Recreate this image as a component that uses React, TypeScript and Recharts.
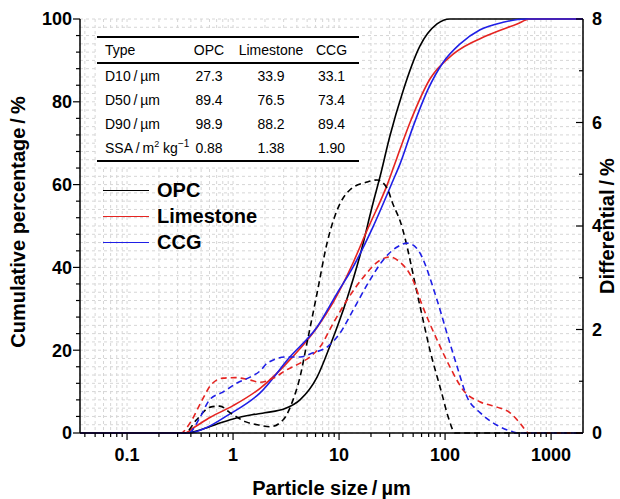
import React from 'react';
import { LineChart, Line, XAxis, YAxis, CartesianGrid } from 'recharts';

// particle size (µm) / cumulative passing (%)
const OPC_CUM_SIZE = [0.036, 0.35, 0.5, 0.71, 1, 1.51, 2, 3.1, 4.28, 6.2, 8.2, 11.9, 15.8, 20.9, 24.4, 30, 40, 58, 84, 111, 2000];
const OPC_CUM = [0, 0, 0.8, 2.2, 3.4, 4.4, 4.9, 5.9, 8.0, 13.5, 21, 32.5, 43, 55.5, 62, 71.5, 82.5, 93.5, 98.8, 100, 100];

const LIME_CUM_SIZE = [0.036, 0.35, 0.42, 0.61, 1, 1.8, 3.68, 6.2, 8.77, 13.5, 18.4, 28.5, 35.2, 46.7, 72, 119, 249, 478, 632, 2000];
const LIME_CUM = [0, 0, 1.2, 3.8, 6.6, 10.8, 18.5, 25.5, 31.5, 41, 49, 60, 66.5, 75, 85.5, 91.5, 96, 98.8, 100, 100];

const CCG_CUM_SIZE = [0.036, 0.39, 0.55, 0.88, 1.8, 3.45, 6.2, 9.6, 13.5, 20.9, 32.3, 37.6, 49.9, 69, 95.7, 138.6, 214, 352, 569, 2000];
const CCG_CUM = [0, 0, 1.2, 4.2, 9.7, 18.4, 25.6, 33.8, 40, 49.8, 61, 65, 74, 83, 89.5, 94, 97.4, 99.2, 100, 100];

// particle size (µm) / differential volume (%)
const OPC_DIFF_SIZE = [0.036, 0.35, 0.45, 0.61, 0.75, 0.94, 1.3, 1.8, 2.23, 2.96, 3.68, 4.28, 4.98, 6.2, 7.7, 9.6, 12.7, 18.4, 22.8, 28.4, 32, 37.6, 58, 72, 93, 107, 125, 2000];
const OPC_DIFF = [0, 0, 0.25, 0.5, 0.52, 0.39, 0.22, 0.15, 0.12, 0.25, 0.64, 1.08, 1.74, 2.7, 3.67, 4.31, 4.7, 4.85, 4.89, 4.73, 4.44, 4.1, 2.45, 1.6, 0.77, 0.31, 0, 0];

const LIME_DIFF_SIZE = [0.036, 0.32, 0.4, 0.5, 0.62, 0.8, 1.05, 1.4, 1.8, 2.4, 3.2, 4.3, 5.3, 6.6, 8.8, 11.9, 16.8, 24.4, 30, 37.6, 49.7, 60, 84, 111, 148, 215, 309, 410, 510, 620, 2000];
const LIME_DIFF = [0, 0, 0.22, 0.6, 0.93, 1.06, 1.07, 1.03, 0.98, 1.06, 1.22, 1.35, 1.47, 1.66, 2.12, 2.57, 3.0, 3.34, 3.4, 3.3, 2.96, 2.5, 1.8, 1.28, 0.83, 0.6, 0.5, 0.39, 0.19, 0, 0];

const CCG_DIFF_SIZE = [0.036, 0.38, 0.49, 0.6, 0.8, 1.1, 1.45, 1.8, 2.1, 3.2, 4.3, 5.7, 7.7, 10.2, 13.6, 19.6, 26, 35, 44, 54, 84, 104, 130, 161, 215, 309, 440, 480, 2000];
const CCG_DIFF = [0, 0, 0.31, 0.64, 0.79, 0.97, 1.08, 1.2, 1.35, 1.47, 1.47, 1.55, 1.66, 1.93, 2.38, 2.96, 3.34, 3.59, 3.67, 3.57, 2.57, 1.93, 1.28, 0.7, 0.39, 0.15, 0.02, 0, 0];

const X_MAJOR = [0.1, 1, 10, 100, 1000];
const X_TICKS = [
  0.04, 0.05, 0.06, 0.07, 0.08, 0.09,
  0.1, 0.2, 0.3, 0.4, 0.5, 0.6, 0.7, 0.8, 0.9,
  1, 2, 3, 4, 5, 6, 7, 8, 9,
  10, 20, 30, 40, 50, 60, 70, 80, 90,
  100, 200, 300, 400, 500, 600, 700, 800, 900,
  1000,
];
const LEFT_TICKS = Array.from({ length: 51 }, (_, i) => i * 2);
const RIGHT_TICKS = [0, 1, 2, 3, 4, 5, 6, 7, 8];

const TABLE_HEAD = ['Type', 'OPC', 'Limestone', 'CCG'];
const TABLE_ROWS = [
  ['D10', '27.3', '33.9', '33.1'],
  ['D50', '89.4', '76.5', '73.4'],
  ['D90', '98.9', '88.2', '89.4'],
  ['SSA', '0.88', '1.38', '1.90'],
];

const RED = '#e52421';
const BLUE = '#1f1fe6';
const FONT = '"Liberation Sans", Arial, Helvetica, sans-serif';

const SERIES = [
  { name: 'OPC', color: '#000' },
  { name: 'Limestone', color: RED },
  { name: 'CCG', color: BLUE },
];

const zip = (xs: number[], ys: number[]) => xs.map((x, i) => ({ x, y: ys[i] }));

const XTick = (props: any) => {
  const { x, y, payload } = props;
  const major = X_MAJOR.includes(payload.value);
  return (
    <g>
      <line x1={x} x2={x} y1={y} y2={y + (major ? 7 : 4)} stroke="#000" strokeWidth={1.2} />
      {major && (
        <text x={x} y={y + 28} textAnchor="middle" fontFamily={FONT} fontSize={18} fontWeight="bold" fill="#000">
          {String(payload.value)}
        </text>
      )}
    </g>
  );
};

const LeftTick = (props: any) => {
  const { x, y, payload } = props;
  const v = payload.value;
  if (v % 4 !== 0) return <g />;
  const major = v % 20 === 0;
  return (
    <g>
      <line x1={x - (major ? 7 : 4)} x2={x} y1={y} y2={y} stroke="#000" strokeWidth={1.2} />
      {major && (
        <text x={x - 8} y={y} dy="0.36em" textAnchor="end" fontFamily={FONT} fontSize={18} fontWeight="bold" fill="#000">
          {v}
        </text>
      )}
    </g>
  );
};

const RightTick = (props: any) => {
  const { x, y, payload } = props;
  const v = payload.value;
  const major = v % 2 === 0;
  return (
    <g>
      <line x1={x - (major ? 7 : 4)} x2={x} y1={y} y2={y} stroke="#000" strokeWidth={1.2} />
      {major && (
        <text x={x + 9} y={y} dy="0.36em" textAnchor="start" fontFamily={FONT} fontSize={18} fontWeight="bold" fill="#000">
          {v}
        </text>
      )}
    </g>
  );
};

const titleStyle = { fontFamily: FONT, fontSize: 20, fontWeight: 'bold' as const, fill: '#000' };

const SizeTable = () => {
  const cols = [86, 52, 72, 49];
  const cell = (content: React.ReactNode, i: number, key: string) => (
    <div
      key={key}
      style={{
        width: cols[i],
        height: 24,
        display: 'flex',
        alignItems: 'center',
        justifyContent: i === 0 ? 'flex-start' : 'center',
        paddingLeft: i === 0 ? 8 : 0,
        boxSizing: 'border-box',
        whiteSpace: 'nowrap',
      }}
    >
      {content}
    </div>
  );
  const unit = (name: string) =>
    name === 'SSA' ? (
      <span>
        SSA{'\u2009/\u2009'}m<sup style={{ fontSize: 9, lineHeight: 0 }}>2</sup> kg
        <sup style={{ fontSize: 10, lineHeight: 0 }}>−1</sup>
      </span>
    ) : (
      <span>{name}{'\u2009/\u2009'}µm</span>
    );
  return (
    <div
      style={{
        position: 'absolute',
        left: 96,
        top: 30,
        width: 262,
        padding: '6px 1px 5px 1px',
        background: '#fff',
        fontFamily: FONT,
        fontSize: 14,
        color: '#000',
      }}
    >
      <div style={{ display: 'flex', borderTop: '2px solid #000', borderBottom: '2px solid #000', height: 24 }}>
        {TABLE_HEAD.map((h, i) => cell(h, i, 'h' + i))}
      </div>
      <div style={{ borderBottom: '2px solid #000' }}>
        {TABLE_ROWS.map((r, ri) => (
          <div key={ri} style={{ display: 'flex' }}>
            {r.map((c, i) => cell(i === 0 ? unit(c) : c, i, ri + '-' + i))}
          </div>
        ))}
      </div>
    </div>
  );
};

const SeriesKey = () => (
  <div style={{ position: 'absolute', left: 103, top: 177, fontFamily: FONT }}>
    {SERIES.map(s => (
      <div key={s.name} style={{ display: 'flex', alignItems: 'center', height: 26 }}>
        <div style={{ width: 46, height: 0, borderTop: `1.6px solid ${s.color}` }} />
        <span style={{ marginLeft: 8, fontSize: 20, fontWeight: 'bold', color: '#000' }}>{s.name}</span>
      </div>
    ))}
  </div>
);

export default function App() {
  const cum = [zip(OPC_CUM_SIZE, OPC_CUM), zip(LIME_CUM_SIZE, LIME_CUM), zip(CCG_CUM_SIZE, CCG_CUM)];
  const diff = [zip(OPC_DIFF_SIZE, OPC_DIFF), zip(LIME_DIFF_SIZE, LIME_DIFF), zip(CCG_DIFF_SIZE, CCG_DIFF)];
  const axisLine = { stroke: '#000', strokeWidth: 1.5 };

  return (
    <div style={{ position: 'fixed', left: 0, top: 0, width: 620, height: 499, background: '#fff' }}>
      <LineChart width={620} height={499} margin={{ top: 19, right: 0, bottom: 0, left: 0 }}>
        <CartesianGrid xAxisId="x" yAxisId="left" stroke="#d6d6d6" strokeDasharray="3 3" />
        <XAxis
          xAxisId="x"
          dataKey="x"
          type="number"
          scale="log"
          domain={[0.036, 2000]}
          allowDataOverflow
          ticks={X_TICKS}
          interval={0}
          tick={<XTick />}
          tickLine={false}
          tickSize={0}
          tickMargin={0}
          axisLine={axisLine}
          height={66}
          label={(p: any) => {
            const vb = p.viewBox;
            return (
              <text x={vb.x + vb.width / 2} y={vb.y + 62} textAnchor="middle" {...titleStyle}>
                Particle size{'\u2009/\u2009'}µm
              </text>
            );
          }}
        />
        <XAxis xAxisId="top" orientation="top" type="number" domain={[0, 1]} height={0} tick={false} tickLine={false} axisLine={axisLine} />
        <YAxis
          yAxisId="left"
          type="number"
          domain={[0, 100]}
          ticks={LEFT_TICKS}
          interval={0}
          width={80}
          tick={<LeftTick />}
          tickLine={false}
          tickSize={0}
          tickMargin={0}
          axisLine={axisLine}
          label={(p: any) => {
            const vb = p.viewBox;
            const cy = vb.y + vb.height / 2 - 4;
            return (
              <text x={25} y={cy} transform={`rotate(-90 25 ${cy})`} textAnchor="middle" {...titleStyle}>
                Cumulative percentage{'\u2009/\u2009'}%
              </text>
            );
          }}
        />
        <YAxis
          yAxisId="right"
          orientation="right"
          type="number"
          domain={[0, 8]}
          ticks={RIGHT_TICKS}
          interval={0}
          width={37}
          tick={<RightTick />}
          tickLine={false}
          tickSize={0}
          tickMargin={0}
          axisLine={axisLine}
          label={(p: any) => {
            const vb = p.viewBox;
            const cy = vb.y + vb.height / 2;
            const cx = 614;
            return (
              <text x={cx} y={cy} transform={`rotate(-90 ${cx} ${cy})`} textAnchor="middle" {...titleStyle}>
                Differential{'\u2009/\u2009'}%
              </text>
            );
          }}
        />
        {SERIES.map((s, i) => (
          <Line
            key={'c' + s.name}
            xAxisId="x"
            yAxisId="left"
            data={cum[i]}
            dataKey="y"
            type="monotone"
            stroke={s.color}
            strokeWidth={1.6}
            dot={false}
            activeDot={false}
            isAnimationActive={false}
          />
        ))}
        {SERIES.map((s, i) => (
          <Line
            key={'d' + s.name}
            xAxisId="x"
            yAxisId="right"
            data={diff[i]}
            dataKey="y"
            type="monotone"
            stroke={s.color}
            strokeWidth={1.6}
            strokeDasharray="6 4"
            dot={false}
            activeDot={false}
            isAnimationActive={false}
          />
        ))}
      </LineChart>
      <SizeTable />
      <SeriesKey />
    </div>
  );
}
